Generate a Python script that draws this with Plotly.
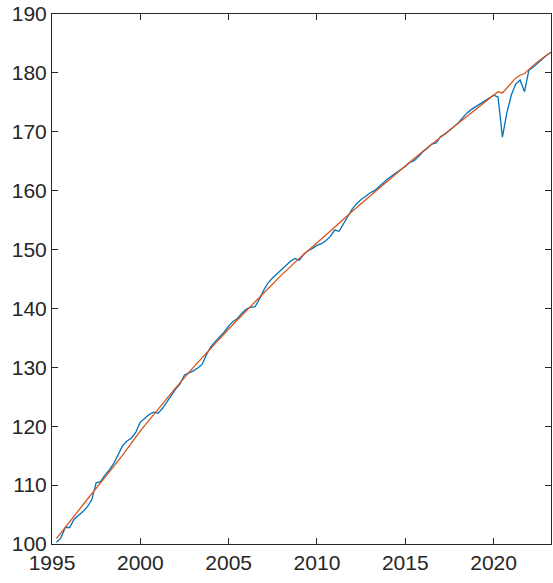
import plotly.graph_objects as go

# Quarterly index (first quarter 1995 plotted at 1995.25)
start_year = 1995
index_values = [
    100.3, 101.0, 102.8,
    102.8, 104.2, 104.8, 105.5,
    106.3, 107.5, 110.4, 110.6,
    111.7, 112.6, 113.7, 115.1,
    116.7, 117.5, 118.0, 119.0,
    120.7, 121.3, 122.0, 122.4,
    122.2, 123.0, 124.0, 125.2,
    126.3, 127.2, 128.7, 129.0,
    129.4, 129.9, 130.5, 132.2,
    133.5, 134.4, 135.2, 136.0,
    137.0, 137.8, 138.3, 139.2,
    139.9, 140.2, 140.3, 141.6,
    143.2, 144.4, 145.2, 145.9,
    146.6, 147.4, 148.0, 148.5,
    148.2, 149.2, 149.8, 150.2,
    150.7, 151.0, 151.5, 152.2,
    153.3, 153.1, 154.4, 155.8,
    156.9, 157.8, 158.5, 159.0,
    159.6, 160.0, 160.6, 161.3,
    162.0, 162.6, 163.1, 163.6,
    164.1, 164.8, 165.1, 165.8,
    166.6, 167.2, 167.9, 168.1,
    169.2, 169.6, 170.2, 170.8,
    171.5, 172.4, 173.2, 173.8,
    174.3, 174.8, 175.3, 175.8,
    176.2, 175.9, 169.1, 173.2,
    176.2, 178.1, 178.8, 176.8,
    180.5, 181.0, 181.6, 182.3,
    183.0, 183.5,
]
index_x = [start_year + 0.25 * (i + 1) for i in range(len(index_values))]

# Smooth trend
trend_x = [1995.25, 1996, 1997, 1998, 1999, 2000, 2001, 2002, 2003, 2004,
           2005, 2006, 2007, 2008, 2009, 2010, 2011, 2012, 2013, 2014,
           2015, 2016, 2017, 2018, 2019, 2020, 2020.25, 2020.5, 2020.75,
           2021, 2021.25, 2021.5, 2021.75, 2022, 2022.5, 2023, 2023.25]
trend_values = [100.9, 103.8, 107.6, 111.3, 115.1, 119.2, 122.9, 126.5, 130.0, 133.3,
                136.5, 139.6, 142.7, 145.7, 148.5, 151.1, 153.8, 156.5, 159.1, 161.7,
                164.2, 166.7, 169.1, 171.5, 173.9, 176.3, 176.8, 176.6, 177.5,
                178.4, 179.1, 179.6, 179.9, 180.6, 181.9, 183.0, 183.5]

x_ticks = [1995, 2000, 2005, 2010, 2015, 2020]
y_ticks = [100, 110, 120, 130, 140, 150, 160, 170, 180, 190]

fig = go.Figure()
fig.add_trace(go.Scatter(x=index_x, y=index_values, mode="lines",
                         line=dict(color="#0072BD", width=1.3), showlegend=False))
fig.add_trace(go.Scatter(x=trend_x, y=trend_values, mode="lines",
                         line=dict(color="#D95319", width=1.3), showlegend=False))

axis_common = dict(showline=True, linecolor="#262626", linewidth=1, mirror="ticks",
                   ticks="inside", ticklen=6, tickcolor="#262626", tickwidth=1,
                   showgrid=False, zeroline=False, automargin=False,
                   tickfont=dict(family="Liberation Sans, Arial", size=21, color="#262626"))

fig.update_xaxes(range=[1995, 2023.25], tickvals=x_ticks, **axis_common)
fig.update_yaxes(range=[100, 190], tickvals=y_ticks, **axis_common)

fig.update_layout(width=553, height=583, margin=dict(l=52, r=2, t=14, b=39),
                  plot_bgcolor="white", paper_bgcolor="white")

fig.write_html("out.html", config={"displayModeBar": False},
               post_script="document.body.style.margin='0';document.body.style.overflow='hidden';")
